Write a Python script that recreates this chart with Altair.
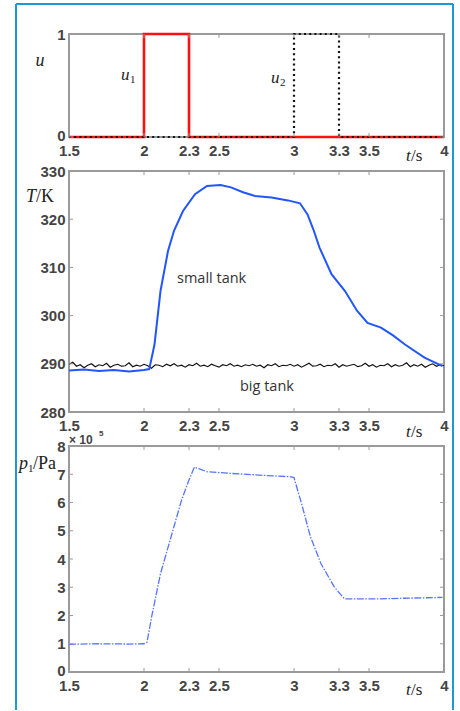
import altair as alt
import pandas as pd

# ---------------- data ----------------
u1_t = [1.5, 2.0, 2.0, 2.3, 2.3, 4.0]
u1_v = [0, 0, 1, 1, 0, 0]
u2_t = [1.5, 3.0, 3.0, 3.3, 3.3, 4.0]
u2_v = [0, 0, 1, 1, 0, 0]

small_t = [1.5, 1.6, 1.7, 1.8, 1.9, 2.0, 2.035, 2.07, 2.11, 2.16, 2.2, 2.26, 2.34, 2.42,
           2.51, 2.58, 2.66, 2.74, 2.85, 2.96, 3.04, 3.09, 3.13, 3.17, 3.25, 3.34, 3.42,
           3.49, 3.58, 3.66, 3.74, 3.87, 3.99]
small_T = [288.6, 288.8, 288.5, 288.7, 288.4, 288.7, 288.9, 294.0, 305.1, 313.4, 317.6,
           321.7, 325.2, 326.9, 327.1, 326.6, 325.6, 324.8, 324.5, 323.9, 323.3, 321.0,
           317.8, 314.1, 308.6, 305.1, 301.0, 298.5, 297.5, 295.9, 294.0, 291.3, 289.5]

big_t = [1.500, 1.525, 1.550, 1.575, 1.600, 1.625, 1.650, 1.675, 1.700, 1.725,
         1.750, 1.775, 1.800, 1.825, 1.850, 1.875, 1.900, 1.925, 1.950, 1.975,
         2.000, 2.025, 2.050, 2.075, 2.100, 2.125, 2.150, 2.175, 2.200, 2.225,
         2.250, 2.275, 2.300, 2.325, 2.350, 2.375, 2.400, 2.425, 2.450, 2.475,
         2.500, 2.525, 2.550, 2.575, 2.600, 2.625, 2.650, 2.675, 2.700, 2.725,
         2.750, 2.775, 2.800, 2.825, 2.850, 2.875, 2.900, 2.925, 2.950, 2.975,
         3.000, 3.025, 3.050, 3.075, 3.100, 3.125, 3.150, 3.175, 3.200, 3.225,
         3.250, 3.275, 3.300, 3.325, 3.350, 3.375, 3.400, 3.425, 3.450, 3.475,
         3.500, 3.525, 3.550, 3.575, 3.600, 3.625, 3.650, 3.675, 3.700, 3.725,
         3.750, 3.775, 3.800, 3.825, 3.850, 3.875, 3.900, 3.925, 3.950, 3.975,
         4.000]
big_T = [289.9, 290.3, 289.5, 289.8, 289.2, 289.7, 290.0, 289.4, 289.8, 289.6,
         290.1, 289.3, 289.7, 289.9, 289.5, 289.6, 290.2, 289.4, 289.7, 289.5,
         289.9, 289.6, 289.1, 289.8, 289.7, 289.4, 289.9, 289.6, 290.0, 289.5,
         289.7, 289.3, 289.8, 289.6, 290.1, 289.5, 289.7, 289.4, 289.9, 289.6,
         289.3, 289.8, 289.6, 290.0, 289.5, 289.7, 289.4, 289.8, 289.6, 289.9,
         289.5, 289.7, 289.2, 289.8, 289.6, 290.0, 289.4, 289.7, 289.6, 289.9,
         289.5, 289.8, 289.3, 289.7, 290.1, 289.5, 289.6, 289.9, 289.4, 289.7,
         289.6, 290.0, 289.3, 289.8, 289.5, 289.7, 289.9, 289.4, 289.6, 290.1,
         289.5, 289.8, 289.3, 289.7, 289.6, 290.0, 289.4, 289.8, 289.5, 289.7,
         290.2, 289.4, 289.8, 289.5, 289.9, 289.3, 289.7, 290.0, 289.5, 289.8,
         289.6]

p_t = [1.5, 1.7, 1.9, 2.0, 2.02, 2.05, 2.11, 2.18, 2.25, 2.30, 2.336, 2.42, 2.58, 2.8,
       2.98, 3.0, 3.05, 3.11, 3.18, 3.27, 3.336, 3.58, 3.8, 3.99]
p_v = [0.98, 1.0, 0.99, 1.0, 1.05, 1.93, 3.48, 4.78, 6.08, 6.8, 7.25, 7.09, 7.03, 6.96,
       6.91, 6.88, 5.97, 4.78, 3.83, 3.0, 2.59, 2.59, 2.62, 2.64]

x_ticks = [1.5, 2, 2.3, 2.5, 3, 3.3, 3.5, 4]
u_ticks = [0, 1]
T_ticks = [280, 290, 300, 310, 320, 330]
p_ticks = [0, 1, 2, 3, 4, 5, 6, 7, 8]

# ---------------- layout / style ----------------
W = 375
H1, H2, H3 = 103, 241, 226
LABEL_FONT = "Liberation Sans"
LABEL_COLOR = "#444"
FRAME = "#9a9a9a"
ONE = alt.Data(values=[{"a": 1}])


def txt(s, x, y, size=18, font="Liberation Serif", style="normal", weight="normal",
        align="left", color="#222"):
    return alt.Chart(ONE).mark_text(
        text=s, font=font, fontSize=size, fontStyle=style, fontWeight=weight,
        align=align, baseline="middle", color=color
    ).encode(x=alt.value(x), y=alt.value(y))


X = alt.X("t:Q", scale=alt.Scale(domain=[1.5, 4], nice=False, zero=False),
          axis=alt.Axis(values=x_ticks, ticks=False, domain=False, grid=False, title=None,
                        labelFlush=False, labelPadding=6, labelFontSize=15, labelFont=LABEL_FONT,
                        labelFontWeight="bold", labelColor=LABEL_COLOR, labelOverlap=False,
                        format="~g"))


def yenc(field, domain, values, fmt, low_shift=0):
    return alt.Y(f"{field}:Q", scale=alt.Scale(domain=domain, nice=False, zero=False),
                 axis=alt.Axis(values=values, ticks=False, domain=False, grid=False, title=None,
                               labelPadding=4, labelFontSize=15, labelFont=LABEL_FONT,
                               labelFontWeight="bold", labelColor=LABEL_COLOR,
                               labelOverlap=False, labelFlush=False, format=fmt,
                               labelOffset={"condition": {"test": f"datum.value == {domain[0]}",
                                                          "value": low_shift},
                                            "value": 0}))


def inner_ticks(field, Y, yvals, H):
    xt = pd.DataFrame({"t": x_ticks})
    yt = pd.DataFrame({field: yvals})
    base_x = alt.Chart(xt).mark_rule(color=FRAME, strokeWidth=1)
    base_y = alt.Chart(yt).mark_rule(color=FRAME, strokeWidth=1)
    return [
        base_x.encode(x=X, y=alt.value(H), y2=alt.value(H - 4)),
        base_x.encode(x=X, y=alt.value(0), y2=alt.value(4)),
        base_y.encode(y=Y, x=alt.value(0), x2=alt.value(4)),
        base_y.encode(y=Y, x=alt.value(W), x2=alt.value(W - 4)),
    ]


# ---------------- panel 1 : u ----------------
Yu = yenc("u", [0, 1], u_ticks, "d", low_shift=-2)
d_u1 = pd.DataFrame({"t": u1_t, "u": u1_v, "i": range(len(u1_t))})
d_u2 = pd.DataFrame({"t": u2_t, "u": u2_v, "i": range(len(u2_t))})

border = alt.Chart(ONE).mark_rule(color="#1b9ad6", strokeWidth=2)
border_layers = [
    border.encode(x=alt.value(-53), y=alt.value(-30), y2=alt.value(676)),
    border.encode(x=alt.value(384), y=alt.value(-30), y2=alt.value(676)),
    border.encode(y=alt.value(-30), x=alt.value(-53), x2=alt.value(384)),
]

p1 = alt.layer(
    *border_layers,
    alt.Chart(d_u1).mark_line(color="#ff1010", strokeWidth=2.6, interpolate="linear")
    .encode(x=X, y=Yu, order="i:Q"),
    alt.Chart(d_u2).mark_line(color="#111", strokeWidth=2.2, strokeDash=[2, 3.2])
    .encode(x=X, y=Yu, order="i:Q"),
    *inner_ticks("u", Yu, u_ticks, H1),
    txt("u", -29, 27, style="italic", align="center"),
    txt("u", 52, 41, size=17, style="italic"),
    txt("1", 61, 46, size=11),
    txt("u", 202, 44, size=17, style="italic"),
    txt("2", 211, 49, size=11),
    txt("t", 337, 122, size=17, style="italic"),
    txt("/s", 342, 122, size=17),
).properties(width=W, height=H1)

# ---------------- panel 2 : T ----------------
YT = yenc("T", [280, 330], T_ticks, "d")
d_small = pd.DataFrame({"t": small_t, "T": small_T})
d_big = pd.DataFrame({"t": big_t, "T": big_T})

p2 = alt.layer(
    alt.Chart(d_big).mark_line(color="#111", strokeWidth=1.2).encode(x=X, y=YT),
    alt.Chart(d_small).mark_line(color="#2156ff", strokeWidth=2.0).encode(x=X, y=YT),
    *inner_ticks("T", YT, T_ticks, H2),
    txt("T", -43, 26, style="italic"),
    txt("/K", -33, 26),
    txt("small tank", 108, 108, size=14.5, font="Open Sans", color="#333"),
    txt("big tank", 171, 216, size=14.5, font="Open Sans", color="#333"),
    txt("t", 337, 261, size=17, style="italic"),
    txt("/s", 342, 261, size=17),
).properties(width=W, height=H2)

# ---------------- panel 3 : p1 ----------------
Yp = yenc("p", [0, 8], p_ticks, "d", low_shift=-2)
d_p = pd.DataFrame({"t": p_t, "p": p_v})

p3 = alt.layer(
    alt.Chart(d_p).mark_line(color="#3a5cff", strokeWidth=1.3, strokeDash=[7, 1.5, 1.5, 1.5],
                             opacity=0.85).encode(x=X, y=Yp),
    *inner_ticks("p", Yp, p_ticks, H3),
    txt("p", -50, 18, style="italic"),
    txt("1", -41, 23, size=11),
    txt("/Pa", -36, 18),
    txt("× 10", 0, -6, size=12, font=LABEL_FONT, weight="bold", color="#444"),
    txt("5", 30, -12, size=8, font=LABEL_FONT, weight="bold", color="#444"),
    txt("t", 337, 244, size=17, style="italic"),
    txt("/s", 342, 244, size=17),
).properties(width=W, height=H3)

chart = alt.vconcat(p1, p2, p3, spacing=34, bounds="flush").properties(
    padding={"left": 14, "top": 2, "right": 0, "bottom": 0},
    background="white",
).configure_view(stroke=FRAME, strokeWidth=2)

chart.save("out.html", embed_options={"renderer": "svg", "actions": False})
